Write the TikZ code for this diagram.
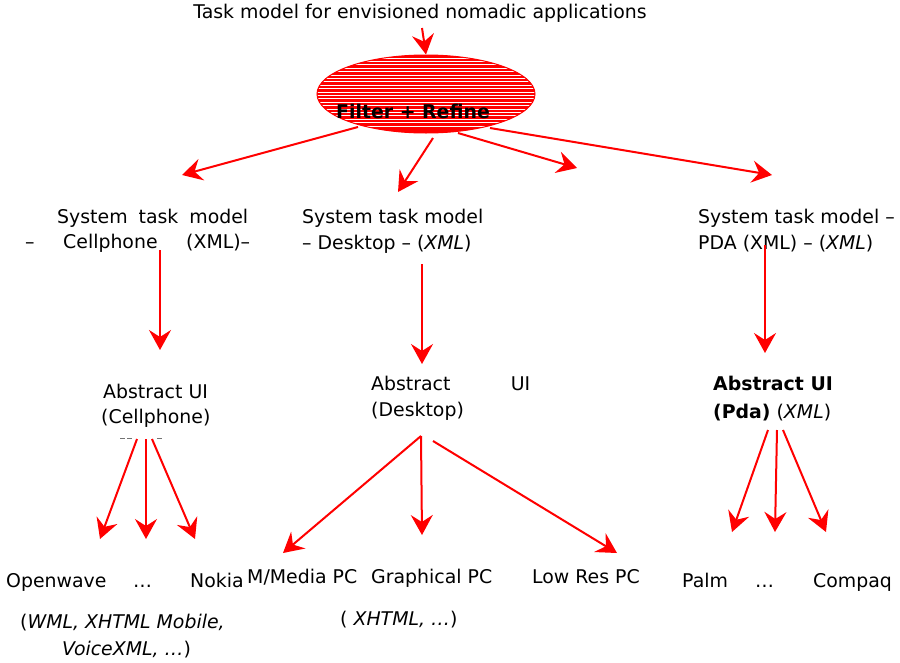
\documentclass[tikz,border=0pt]{standalone}
\usepackage{fontspec}
\setmainfont{DejaVu Sans}
\usetikzlibrary{shapes.geometric,arrows.meta}
\begin{document}
\begin{tikzpicture}[x=1pt,y=-1pt,
  lbl/.style={inner sep=0pt,anchor=base west,font=\fontsize{18.9}{25}\selectfont},
  arr/.style={draw=red,line width=2pt,-{Stealth[length=20pt,width=22pt,inset=7pt]}},
  faint/.style={draw=black!55,line width=1pt}
]
\useasboundingbox (0,0) rectangle (900,662);

% title and filter
\node[lbl,anchor=base] (title) at (420,18) {Task model for envisioned nomadic applications};
\node[ellipse,fill=red,draw=red,line width=1pt,minimum width=218pt,minimum height=78pt,inner sep=0pt,
  path picture={\foreach \yy in {-36,-32.6,...,33} \draw[white,line width=0.65pt] (-130,\yy) -- (130,\yy);}] (flt) at (426,94) {};
\node[lbl,anchor=base,font=\fontsize{18.9}{25}\selectfont\bfseries] (fr) at (413,118) {Filter + Refine};

% system task models
\node[lbl] (sc1) at (57,223) {\makebox[191pt][s]{System task model}};
\node[lbl] (sc2) at (25,248) {\makebox[225pt][s]{– Cellphone (XML)–}};
\node[lbl] (sd1) at (302,223) {System task model};
\node[lbl] (sd2) at (302,249) {– Desktop – (\textit{XML})};
\node[lbl] (sp1) at (698,223) {System task model –};
\node[lbl] (sp2) at (698,249) {PDA (XML) – (\textit{XML})};

% abstract UIs
\node[lbl] (ac1) at (103,398) {Abstract UI};
\node[lbl] (ac2) at (101,423) {(Cellphone)};
\node[lbl] (ad1) at (371,390) {\makebox[159pt][s]{Abstract UI}};
\node[lbl] (ad2) at (371,416) {(Desktop)};
\node[lbl] (ap1) at (713,390) {\textbf{Abstract UI}};
\node[lbl] (ap2) at (713,418) {\textbf{(Pda)} (\textit{XML})};

% faint marks under Cellphone
\coordinate (m1a) at (120,438); \coordinate (m1b) at (125,438);
\coordinate (m2a) at (127,438); \coordinate (m2b) at (132,438);
\coordinate (m3a) at (157,438); \coordinate (m3b) at (162,438);
\draw[faint] (m1a) -- (m1b); \draw[faint] (m2a) -- (m2b); \draw[faint] (m3a) -- (m3b);

% leaves
\node[lbl] (ow) at (6,587) {Openwave};
\node[lbl] (cd) at (133,587) {…};
\node[lbl] (nk) at (190,587) {Nokia};
\node[lbl] (mm) at (247,583) {M/Media PC};
\node[lbl] (gp) at (371,583) {Graphical PC};
\node[lbl] (lr) at (532,583) {Low Res PC};
\node[lbl] (pm) at (682,587) {Palm};
\node[lbl] (pd) at (755,587) {…};
\node[lbl] (cq) at (813,587) {Compaq};
\node[lbl] (wml1) at (20,628) {(\textit{WML, XHTML Mobile,}};
\node[lbl] (wml2) at (62,655) {\textit{VoiceXML, …})};
\node[lbl] (xh) at (340,625) {( \textit{XHTML, …})};

% connector points
\coordinate (t0) at (422,28);
\coordinate (e1s) at (358,127); \coordinate (e1t) at (182,175);
\coordinate (e2s) at (433,138); \coordinate (e2t) at (398,192);
\coordinate (e3s) at (458,133); \coordinate (e3t) at (577,168);
\coordinate (e4s) at (490,128); \coordinate (e4t) at (772,175);
\coordinate (vcs) at (160,250); \coordinate (vct) at (160,350);
\coordinate (vds) at (422,264); \coordinate (vdt) at (422,364);
\coordinate (vps) at (765,245); \coordinate (vpt) at (765,353);
\coordinate (c1s) at (137,439); \coordinate (c1t) at (100,539);
\coordinate (c2s) at (146,439); \coordinate (c2t) at (146,539);
\coordinate (c3s) at (152,439); \coordinate (c3t) at (195,539);
\coordinate (d1s) at (421,436); \coordinate (d1t) at (283,553);
\coordinate (d2s) at (421,436); \coordinate (d2t) at (422,535);
\coordinate (d3s) at (433,441); \coordinate (d3t) at (617,553);
\coordinate (p1s) at (768,430); \coordinate (p1t) at (732,532);
\coordinate (p2s) at (777,430); \coordinate (p2t) at (775,532);
\coordinate (p3s) at (783,430); \coordinate (p3t) at (826,532);

% connectors
\draw[arr] (t0) -- (flt.north);
\draw[arr] (e1s) -- (e1t);
\draw[arr] (e2s) -- (e2t);
\draw[arr] (e3s) -- (e3t);
\draw[arr] (e4s) -- (e4t);
\draw[arr] (vcs) -- (vct);
\draw[arr] (vds) -- (vdt);
\draw[arr] (vps) -- (vpt);
\draw[arr] (c1s) -- (c1t);
\draw[arr] (c2s) -- (c2t);
\draw[arr] (c3s) -- (c3t);
\draw[arr] (d1s) -- (d1t);
\draw[arr] (d2s) -- (d2t);
\draw[arr] (d3s) -- (d3t);
\draw[arr] (p1s) -- (p1t);
\draw[arr] (p2s) -- (p2t);
\draw[arr] (p3s) -- (p3t);
\end{tikzpicture}
\end{document}
